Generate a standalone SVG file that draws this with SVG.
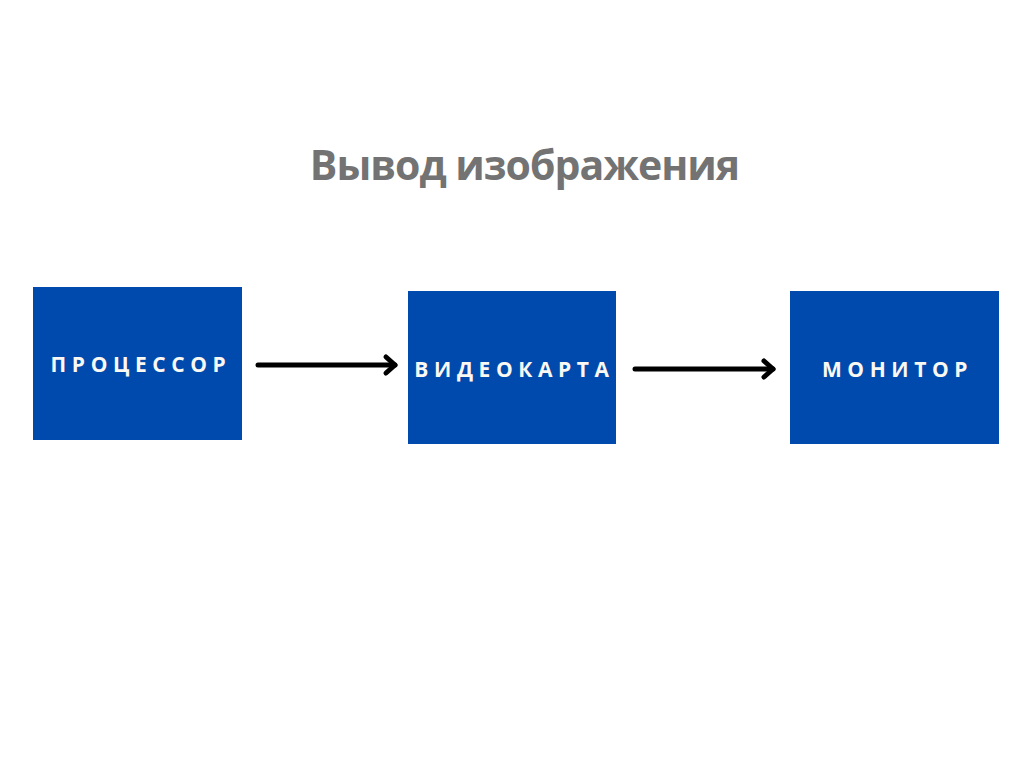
<svg xmlns="http://www.w3.org/2000/svg" width="1024" height="768" viewBox="0 0 1024 768">
<defs>
<style>
.box{fill:#004AAD}
.lbl{font-family:"Open Sans","Liberation Sans",sans-serif;font-weight:700;font-size:21px;fill:#FAF8F2;letter-spacing:5.6px;text-anchor:middle}
.title{font-family:"Open Sans","Noto Sans","Liberation Sans",sans-serif;font-weight:700;font-size:41px;fill:#737373;text-anchor:middle}
.conn{stroke:#000;stroke-width:5;stroke-linecap:round;fill:none}
.head{stroke:#000;stroke-width:5;stroke-linecap:round;stroke-linejoin:round;fill:none}
</style>
</defs>
<rect width="1024" height="768" fill="#fff"/>
<text class="title" x="524.5" y="180" letter-spacing="-1">Вывод изображения</text>
<g id="processor"><rect class="box" x="33" y="287" width="209" height="153"/><text class="lbl" x="141" y="372">ПРОЦЕССОР</text></g>
<g id="videocard"><rect class="box" x="408" y="291" width="208" height="153"/><text class="lbl" x="514.5" y="376.5">ВИДЕОКАРТА</text></g>
<g id="monitor"><rect class="box" x="790" y="291" width="209" height="153"/><text class="lbl" x="897.5" y="376.5">МОНИТОР</text></g>
<g id="connectors">
<path class="conn" d="M258 365H395"/><path class="head" d="M386 357L395 365L386 373"/>
<path class="conn" d="M635 369H773"/><path class="head" d="M764 361L773 369L764 377"/>
</g>
</svg>
